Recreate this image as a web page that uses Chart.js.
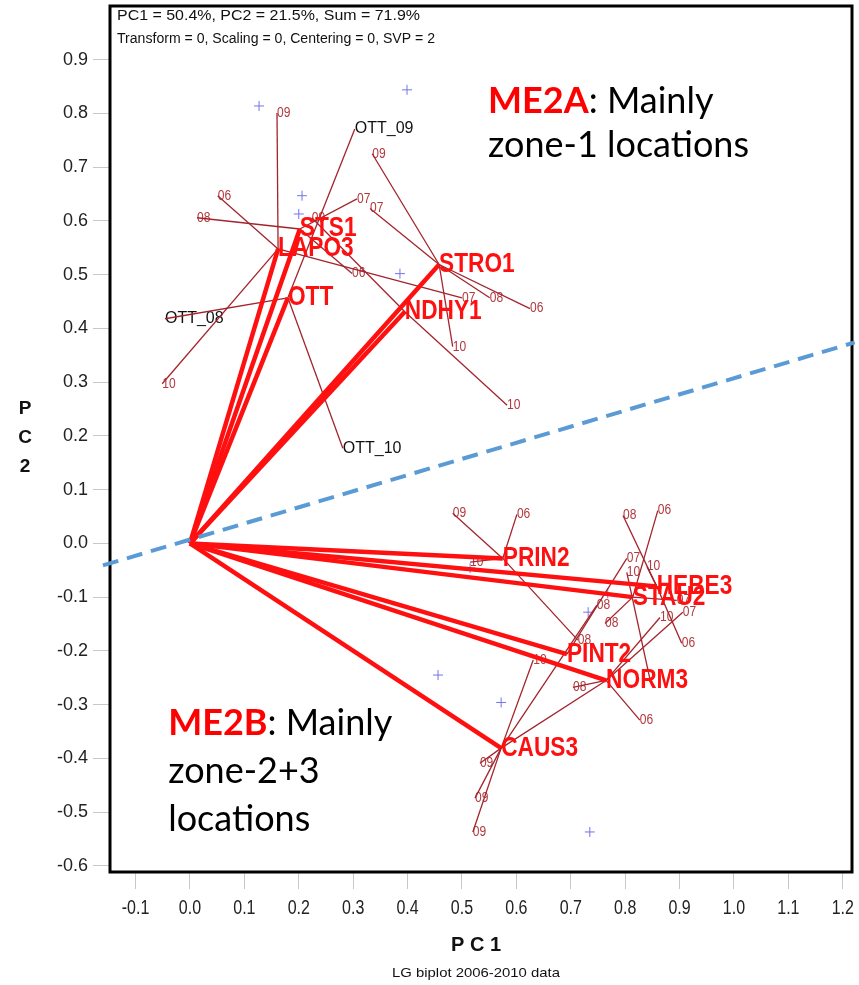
<!DOCTYPE html>
<html>
<head>
<meta charset="utf-8">
<title>LG biplot 2006-2010 data</title>
<script src="https://cdn.jsdelivr.net/npm/chart.js@4.4.1/dist/chart.umd.min.js"></script>
<style>
  html, body { margin: 0; padding: 0; background: #fff; }
  #wrap { width: 859px; height: 985px; }
</style>
</head>
<body>
<div id="wrap"><canvas id="biplot" width="859" height="985"></canvas></div>
<script>
// ---- Location (environment) vectors: PC1 / PC2 scores ----
const locNames = ['LAPO3', 'STS1', 'OTT', 'STRO1', 'NDHY1', 'PRIN2', 'HEBE3', 'STAU2', 'PINT2', 'NORM3', 'CAUS3'];
const locPC1   = [0.162, 0.202, 0.180, 0.458, 0.395, 0.575, 0.858, 0.814, 0.693, 0.765, 0.572];
const locPC2   = [0.548, 0.585, 0.457, 0.519, 0.431, -0.028, -0.080, -0.100, -0.206, -0.255, -0.381];

// ---- Single-year environments, each joined to its location ----
const yearLoc  = ['LAPO3', 'LAPO3', 'LAPO3', 'LAPO3', 'STS1', 'STS1', 'STS1', 'NDHY1', 'NDHY1',
                  'OTT', 'OTT', 'OTT', 'STRO1', 'STRO1', 'STRO1', 'STRO1', 'STRO1',
                  'PRIN2', 'PRIN2', 'PRIN2', 'PRIN2', 'HEBE3', 'HEBE3', 'HEBE3',
                  'STAU2', 'STAU2', 'STAU2', 'PINT2', 'CAUS3', 'NORM3', 'NORM3', 'NORM3', 'NORM3',
                  'CAUS3', 'CAUS3', 'CAUS3', 'CAUS3', 'CAUS3'];
const yearText = ['09', '06', '10', '07', '08', '07', '06', '09', '10',
                  'OTT_09', 'OTT_08', 'OTT_10', '09', '07', '08', '06', '10',
                  '09', '06', '10', '08', '08', '06', '10',
                  '06', '08', '07', '07', '08', '08', '06', '10', '07',
                  '10', '09', '09', '09', ''];
const yearPC1  = [0.160, 0.051, -0.051, 0.500, 0.013, 0.307, 0.298, 0.224, 0.583,
                  0.303, -0.046, 0.281, 0.335, 0.331, 0.551, 0.625, 0.483,
                  0.483, 0.601, 0.515, 0.713, 0.796, 0.904, 0.840,
                  0.860, 0.763, 0.895, 0.803, 0.748, 0.704, 0.827, 0.864, 0.906,
                  0.631, 0.533, 0.524, 0.520, 0.765];
const yearPC2  = [0.801, 0.647, 0.297, 0.457, 0.606, 0.641, 0.502, 0.606, 0.257,
                  0.771, 0.418, 0.177, 0.725, 0.623, 0.457, 0.437, 0.366,
                  0.056, 0.054, -0.035, -0.180, 0.052, -0.186, -0.043,
                  0.061, -0.149, -0.106, -0.028, -0.115, -0.268, -0.329, -0.138, -0.128,
                  -0.217, -0.409, -0.474, -0.537, -0.255];

// extra year link between two year scores
const linkFromPC1 = [0.846], linkFromPC2 = [-0.255];
const linkToPC1   = [0.803], linkToPC2   = [-0.054];
const linkText    = ['10'];

// ---- Genotype scores (+) ----
const genoPC1 = [0.127, 0.399, 0.206, 0.200, 0.386, 0.515, 0.732, 0.768, 0.456, 0.572, 0.735];
const genoPC2 = [0.814, 0.844, 0.647, 0.613, 0.502, -0.046, -0.128, -0.093, -0.245, -0.296, -0.537];

// ---- Mega-environment divider ----
const dividerPC1 = [-0.160, 1.222];
const dividerPC2 = [-0.041, 0.374];

// ---- Axis ranges and ticks ----
const xRange = [-0.147, 1.217];
const yRange = [-0.6115, 1.0];
const xTickValues = [-0.1, 0.0, 0.1, 0.2, 0.3, 0.4, 0.5, 0.6, 0.7, 0.8, 0.9, 1.0, 1.1, 1.2];
const yTickValues = [-0.6, -0.5, -0.4, -0.3, -0.2, -0.1, 0.0, 0.1, 0.2, 0.3, 0.4, 0.5, 0.6, 0.7, 0.8, 0.9];

// ---- Text ----
const headerLines = ['PC1 = 50.4%, PC2 = 21.5%, Sum = 71.9%', 'Transform = 0, Scaling = 0, Centering = 0, SVP = 2'];
const xTitle = 'P C 1';
const yTitle = ['P', 'C', '2'];
const footer = 'LG biplot 2006-2010 data';
const noteTags  = ['ME2A', 'ME2B'];
const noteLines = [[': Mainly', 'zone-1 locations'], [': Mainly', 'zone-2+3', 'locations']];
const notePC1 = [0.548, -0.040];
const notePC2 = [0.801, -0.357];

const SANS = "'Liberation Sans', Arial, Helvetica, sans-serif";
const NOTE_FONT = "Lato, 'Open Sans', sans-serif";

function locIndex(name) { return locNames.indexOf(name); }
function fmt(v) { return Number(v).toFixed(1); }

function drawText(ctx, s, px, py, font, color, sx, align, base) {
  ctx.save();
  ctx.font = font;
  ctx.fillStyle = color;
  ctx.textAlign = align || 'left';
  ctx.textBaseline = base || 'middle';
  ctx.translate(px, py);
  ctx.scale(sx || 1, 1);
  ctx.fillText(s, 0, 0);
  ctx.restore();
}

function textWidth(ctx, s, font) {
  ctx.save();
  ctx.font = font;
  const w = ctx.measureText(s).width;
  ctx.restore();
  return w;
}

// ---- Datasets ----
const datasets = [];

datasets.push({
  label: 'divider',
  data: dividerPC1.map((v, i) => ({ x: v, y: dividerPC2[i] })),
  showLine: true, borderColor: '#5b9bd5', borderWidth: 4, borderDash: [16, 9],
  pointRadius: 0, clip: false, order: 0
});

locNames.forEach((name, i) => {
  datasets.push({
    label: name,
    data: [{ x: 0, y: 0 }, { x: locPC1[i], y: locPC2[i] }],
    showLine: true, borderColor: '#ff1010', borderWidth: 4.5,
    pointRadius: 0, order: 1
  });
});

yearText.forEach((t, i) => {
  const k = locIndex(yearLoc[i]);
  datasets.push({
    label: yearLoc[i] + ' ' + t,
    data: [{ x: locPC1[k], y: locPC2[k] }, { x: yearPC1[i], y: yearPC2[i] }],
    showLine: true, borderColor: '#a3242c', borderWidth: 1.3,
    pointRadius: 0, order: 2
  });
});

linkText.forEach((t, i) => {
  datasets.push({
    label: 'link ' + t,
    data: [{ x: linkFromPC1[i], y: linkFromPC2[i] }, { x: linkToPC1[i], y: linkToPC2[i] }],
    showLine: true, borderColor: '#a3242c', borderWidth: 1.3,
    pointRadius: 0, order: 2
  });
});

datasets.push({
  label: 'genotypes',
  data: genoPC1.map((v, i) => ({ x: v, y: genoPC2[i] })),
  showLine: false, pointStyle: 'cross', pointRadius: 5,
  borderColor: '#7474ea', borderWidth: 1, order: 3
});

// ---- Frame, labels and annotations ----
const biplotText = {
  id: 'biplotText',
  beforeDatasetsDraw(chart) {
    const { ctx, chartArea: a, scales: { x, y } } = chart;
    ctx.save();
    ctx.strokeStyle = '#000';
    ctx.lineWidth = 3;
    ctx.strokeRect(a.left, a.top, a.right - a.left, a.bottom - a.top);
    ctx.restore();

    // year labels sit under the connecting lines
    yearText.forEach((t, i) => {
      if (!t) return;
      const px = x.getPixelForValue(yearPC1[i]);
      const py = y.getPixelForValue(yearPC2[i]);
      if (t.startsWith('OTT')) {
        drawText(ctx, t, px, py, '16px ' + SANS, '#111', 1);
      } else {
        drawText(ctx, t, px, py, '14px ' + SANS, '#b03a3f', 0.86);
      }
    });
    linkText.forEach((t, i) => {
      drawText(ctx, t, x.getPixelForValue(linkToPC1[i]), y.getPixelForValue(linkToPC2[i]),
               '14px ' + SANS, '#b03a3f', 0.86);
    });
  },
  afterDatasetsDraw(chart) {
    const { ctx, chartArea: a, scales: { x, y } } = chart;

    // location names at the vector tips
    locNames.forEach((n, i) => {
      drawText(ctx, n, x.getPixelForValue(locPC1[i]), y.getPixelForValue(locPC2[i]),
               'bold 27px ' + SANS, '#ff1010', 0.84);
    });

    // condensed PC1 tick labels under the tick marks
    x.ticks.forEach((t, i) => {
      drawText(ctx, fmt(t.value), x.getPixelForTick(i), a.bottom + 36, '20px ' + SANS, '#222', 0.8, 'center');
    });

    // header inside the frame
    const hf = '14px ' + SANS;
    drawText(ctx, headerLines[0], a.left + 7, a.top + 10, hf, '#111', 303 / textWidth(ctx, headerLines[0], hf));
    drawText(ctx, headerLines[1], a.left + 7, a.top + 33, hf, '#111', 318 / textWidth(ctx, headerLines[1], hf));

    // mega-environment notes
    const nf = 36;
    noteTags.forEach((tag, i) => {
      const px = x.getPixelForValue(notePC1[i]);
      const py = y.getPixelForValue(notePC2[i]);
      const step = i === 0 ? 44 : 48;
      const tw = textWidth(ctx, tag, 'bold ' + nf + 'px ' + NOTE_FONT);
      drawText(ctx, tag, px, py, 'bold ' + nf + 'px ' + NOTE_FONT, '#ff0000', 1, 'left', 'alphabetic');
      drawText(ctx, noteLines[i][0], px + tw, py, nf + 'px ' + NOTE_FONT, '#000', 1, 'left', 'alphabetic');
      for (let j = 1; j < noteLines[i].length; j++) {
        drawText(ctx, noteLines[i][j], px, py + step * j, nf + 'px ' + NOTE_FONT, '#000', 1, 'left', 'alphabetic');
      }
    });

    // axis titles and footer
    const cy = (a.top + a.bottom) / 2;
    yTitle.forEach((ch, j) => {
      drawText(ctx, ch, 25, cy - 30 + 29 * j, 'bold 19px ' + SANS, '#111', 1, 'center');
    });
    drawText(ctx, xTitle, 476, 945, 'bold 20px ' + SANS, '#111', 1, 'center');
    const fw = textWidth(ctx, footer, '13px ' + SANS);
    drawText(ctx, footer, 476, 973, '13px ' + SANS, '#111', 168 / fw, 'center');
  }
};

new Chart(document.getElementById('biplot'), {
  type: 'scatter',
  data: { datasets },
  plugins: [biplotText],
  options: {
    responsive: false,
    animation: false,
    devicePixelRatio: 1,
    layout: { padding: { left: 0, top: 5, right: 7, bottom: 0 } },
    plugins: { legend: { display: false }, tooltip: { enabled: false } },
    scales: {
      x: {
        type: 'linear', min: xRange[0], max: xRange[1],
        afterBuildTicks: s => { s.ticks = xTickValues.map(v => ({ value: v })); },
        afterFit: s => { s.height = 113; s.paddingLeft = 0; s.paddingRight = 0; },
        border: { display: false },
        grid: { drawOnChartArea: false, drawTicks: true, tickLength: 17, color: '#c8c8c8' },
        ticks: {
          padding: 6, color: 'rgba(0,0,0,0)', maxRotation: 0, autoSkip: false,
          font: { family: SANS, size: 14 },
          callback: v => fmt(v)
        }
      },
      y: {
        type: 'linear', min: yRange[0], max: yRange[1],
        afterBuildTicks: s => { s.ticks = yTickValues.map(v => ({ value: v })); },
        afterFit: s => { s.width = 110; s.paddingTop = 0; s.paddingBottom = 0; },
        border: { display: false },
        grid: { drawOnChartArea: false, drawTicks: true, tickLength: 17, color: '#c8c8c8' },
        ticks: {
          padding: 5, color: '#222', autoSkip: false,
          font: { family: SANS, size: 18 },
          callback: v => fmt(v)
        }
      }
    }
  }
});
</script>
</body>
</html>
